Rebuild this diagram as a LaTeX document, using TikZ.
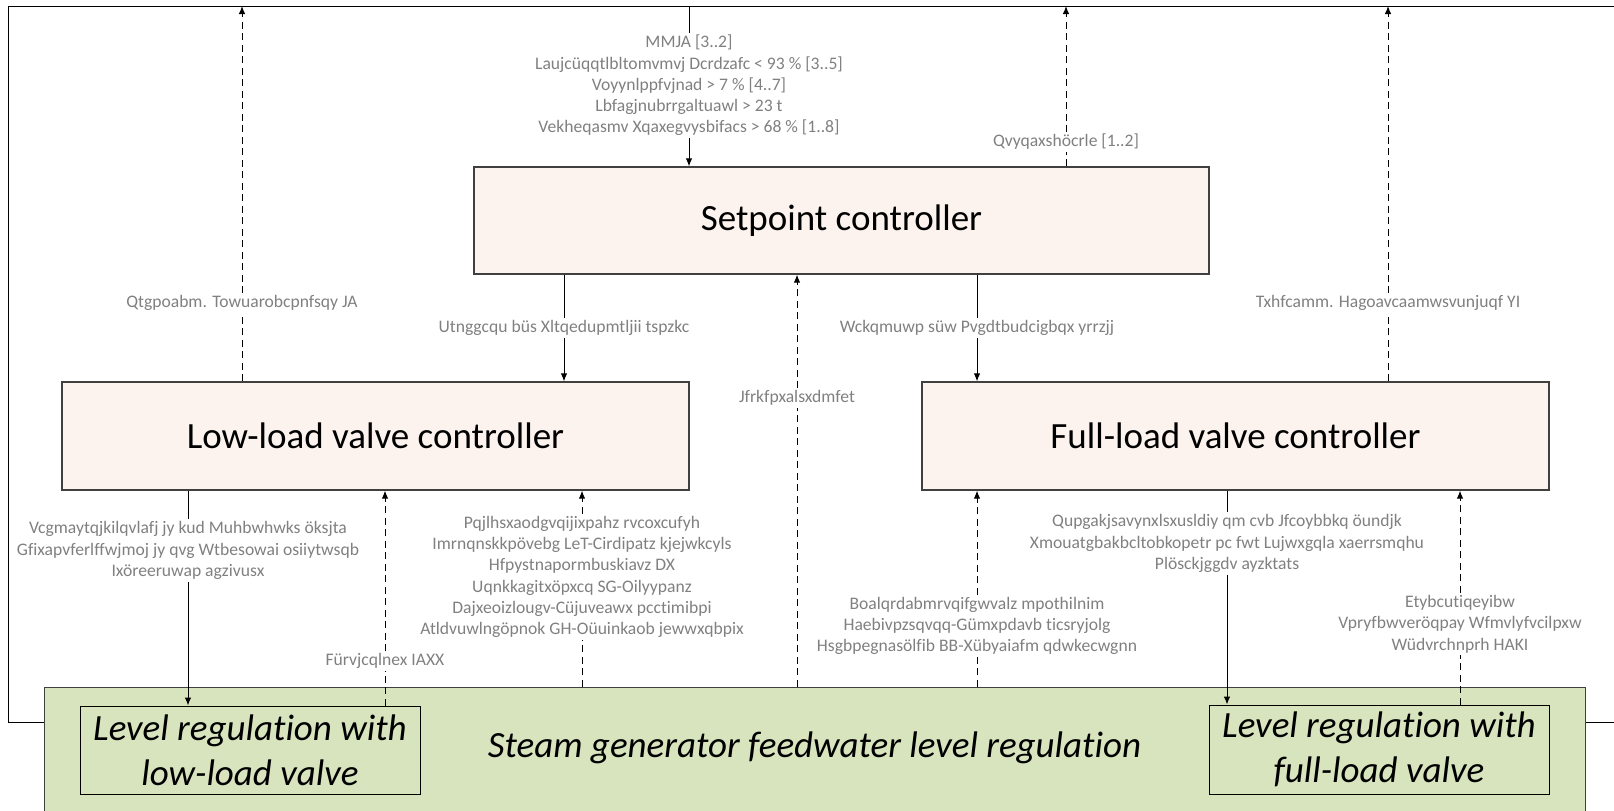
\documentclass[tikz,border=0pt]{standalone}
\usepackage{fontspec}
\setmainfont{Carlito}[Ligatures=NoCommon]
\usepackage{xcolor}
\usepackage{tikz}
\usetikzlibrary{arrows.meta}
\definecolor{peach}{HTML}{FCF3EE}
\definecolor{sggreen}{HTML}{D7E4BD}
\definecolor{labelgray}{HTML}{808080}
\definecolor{edgegray}{HTML}{404040}

\begin{document}
\begin{tikzpicture}[x=1pt, y=-1pt,
  ctrl/.style={rectangle, draw=edgegray, line width=1.3pt, fill=peach, inner sep=0pt, font=\fontsize{37}{45}\selectfont},
  regbox/.style={rectangle, draw=black, line width=1pt, fill=sggreen, inner sep=0pt, align=center, font=\fontsize{37}{45}\selectfont\itshape},
  lbl/.style={text=labelgray, align=center, inner sep=2pt, font=\fontsize{17.6}{21.3}\selectfont},
  flow/.style={draw=black, line width=1pt},
  fbk/.style={draw=black, line width=1pt, dash pattern=on 7pt off 4.5pt},
  >={Latex[length=8pt,width=6.5pt]}]
\useasboundingbox (0,0) rectangle (1614,811);
\clip (0,0) rectangle (1614,811);

% plant
\node [regbox, draw=edgegray, minimum width=1541pt, minimum height=143pt] (sg) at (814.5, 758.5) {};
\node [font=\fontsize{37}{45}\selectfont\itshape] (sgt) at (814.5, 748) {Steam generator feedwater level regulation};
\node [regbox, minimum width=340pt, minimum height=88pt] (lvl) at (250, 750) {Level regulation with\\low-load valve};
\node [regbox, minimum width=340pt, minimum height=89pt] (lvf) at (1379, 749.5) {Level regulation with\\full-load valve};

% controllers
\node [ctrl, minimum width=735pt, minimum height=107pt] (sp) at (841.5, 220.5) {Setpoint controller};
\node [ctrl, minimum width=627pt, minimum height=108pt] (low) at (375.5, 436) {Low-load valve controller};
\node [ctrl, minimum width=627pt, minimum height=108pt] (full) at (1235.5, 436) {Full-load valve controller};

% loop round the page
\coordinate (tl) at (8, 6);
\coordinate (tr) at (1614, 6);
\coordinate (bl) at (8, 722);
\coordinate (br) at (1614, 722);
\draw [flow] (sg.west |- bl) -- (bl) -- (tl) -- (tr);
\draw [flow] (sg.east |- br) -- (br);

% labels
\node [lbl] (tin) at (689, 85.5) {MMJA [3..2]\\Laujcüqqtlbltomvmvj Dcrdzafc < 93 \% [3..5]\\Voyynlppfvjnad > 7 \% [4..7]\\Lbfagjnubrrgaltuawl > 23 t\\Vekheqasmv Xqaxegvysbifacs > 68 \% [1..8]};
\node [lbl] (tlow) at (242, 303) {Qtgpoabm. Towuarobcpnfsqy JA};
\node [lbl] (tsp) at (1066, 142) {Qvyqaxshöcrle [1..2]};
\node [lbl] (tfull) at (1388, 303) {Txhfcamm. Hagoavcaamwsvunjuqf YI};
\node [lbl] (spl) at (564, 328) {Utnggcqu büs Xltqedupmtljii tspzkc};
\node [lbl] (spf) at (977, 328) {Wckqmuwp süw Pvgdtbudcigbqx yrrzjj};
\node [lbl] (fb) at (797, 398) {Jfrkfpxalsxdmfet};
\node [lbl] (lowout) at (188, 550.5) {Vcgmaytqjkilqvlafj jy kud Muhbwhwks öksjta\\Gfixapvferlffwjmoj jy qvg Wtbesowai osiiytwsqb\\Ixöreeruwap agzivusx};
\node [lbl] (lowfb) at (385, 661) {Fürvjcqlnex IAXX};
\node [lbl] (lowin) at (582, 577) {Pqjlhsxaodgvqijixpahz rvcoxcufyh\\Imrnqnskkpövebg LeT-Cirdipatz kjejwkcyls\\Hfpystnapormbuskiavz DX\\Uqnkkagitxöpxcq SG-Oilyypanz\\Dajxeoizlougv-Cüjuveawx pcctimibpi\\Atldvuwlngöpnok GH-Oüuinkaob jewwxqbpix};
\node [lbl] (fullin) at (977, 626) {Boalqrdabmrvqifgwvalz mpothilnim\\Haebivpzsqvqq-Gümxpdavb ticsryjolg\\Hsgbpegnasölfib BB-Xübyaiafm qdwkecwgnn};
\node [lbl] (fullout) at (1227, 543.5) {Qupgakjsavynxlsxusldiy qm cvb Jfcoybbkq öundjk\\Xmouatgbakbcltobkopetr pc fwt Lujwxgqla xaerrsmqhu\\Plösckjggdv ayzktats};
\node [lbl] (fullfb) at (1460, 624) {Etybcutiqeyibw\\Vpryfbwveröqpay Wfmvlyfvcilpxw\\Wüdvrchnprh HAKI};

% into the setpoint controller
\draw [flow] (tl -| tin) -- (tin.north);
\draw [flow, ->] (tin.south) -- (sp.north -| tin);

% up to the top line
\draw [fbk] (low.north -| tlow) -- (tlow.south);
\draw [fbk, ->] (tlow.north) -- (tl -| tlow);
\draw [fbk] (sp.north -| tsp) -- (tsp.south);
\draw [fbk, ->] (tsp.north) -- (tl -| tsp);
\draw [fbk] (full.north -| tfull) -- (tfull.south);
\draw [fbk, ->] (tfull.north) -- (tl -| tfull);

% setpoint to valve controllers
\draw [flow] (sp.south -| spl) -- (spl.north);
\draw [flow, ->] (spl.south) -- (low.north -| spl);
\draw [flow] (sp.south -| spf) -- (spf.north);
\draw [flow, ->] (spf.south) -- (full.north -| spf);
\draw [fbk] (sg.north -| fb) -- (fb.south);
\draw [fbk, ->] (fb.north) -- (sp.south -| fb);

% low-load side
\draw [flow] (low.south -| lowout) -- (lowout.north);
\draw [flow, ->] (lowout.south) -- (lvl.north -| lowout);
\draw [fbk] (lvl.north -| lowfb) -- (lowfb.south);
\draw [fbk, ->] (lowfb.north) -- (low.south -| lowfb);
\draw [fbk] (sg.north -| lowin) -- (lowin.south);
\draw [fbk, ->] (lowin.north) -- (low.south -| lowin);

% full-load side
\draw [fbk] (sg.north -| fullin) -- (fullin.south);
\draw [fbk, ->] (fullin.north) -- (full.south -| fullin);
\draw [flow] (full.south -| fullout) -- (fullout.north);
\draw [flow, ->] (fullout.south) -- (lvf.north -| fullout);
\draw [fbk] (lvf.north -| fullfb) -- (fullfb.south);
\draw [fbk, ->] (fullfb.north) -- (full.south -| fullfb);
\end{tikzpicture}
\end{document}
